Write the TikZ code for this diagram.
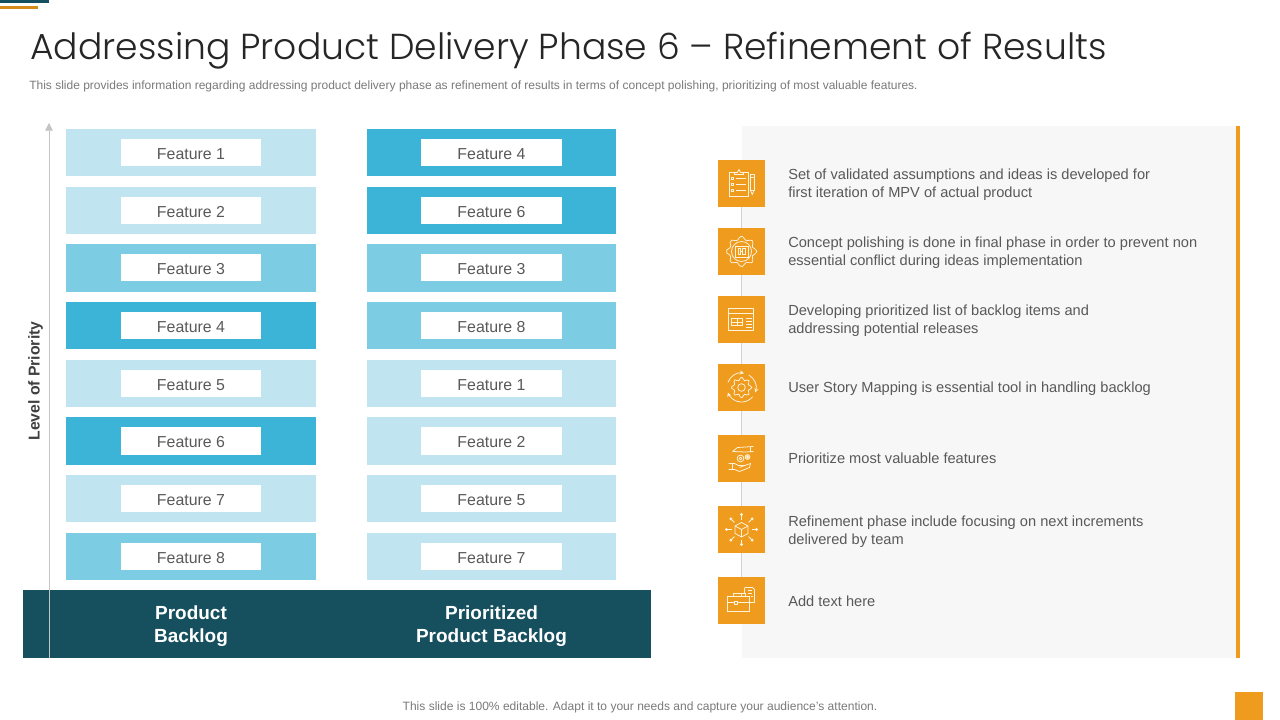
\documentclass[tikz,border=0pt]{standalone}
\usepackage{fontspec}
\setmainfont{Liberation Sans}
\newfontfamily\titlefont[UprightFont=* Light]{Poppins}
\usetikzlibrary{arrows.meta}
\definecolor{barlight}{HTML}{C1E5F0}
\definecolor{barmid}{HTML}{7CCDE4}
\definecolor{bardark}{HTML}{3BB4D8}
\definecolor{teal}{HTML}{16505F}
\definecolor{orange}{HTML}{EE9B1E}
\definecolor{panel}{HTML}{F7F7F7}
\definecolor{txt}{HTML}{595959}
\definecolor{cream}{HTML}{FFF3DC}
\definecolor{axis}{HTML}{C4C4C4}
\newdimen\pxu \pxu=0.025cm
\tikzset{
  x=0.025cm,y=-0.025cm,
  bar/.style={draw=none,inner sep=0,minimum width=250\pxu,minimum height=47.5\pxu},
  chip/.style={fill=white,inner sep=0,minimum width=140\pxu,minimum height=27\pxu,text height=9.5pt,text depth=0pt,text=txt,font=\fontsize{11.3}{13}\selectfont},
  iconbox/.style={fill=orange,inner sep=0,minimum width=47\pxu,minimum height=47\pxu},
  desc/.style={anchor=west,align=left,inner sep=0,text=txt,font=\fontsize{10.4}{13}\selectfont},
  head/.style={align=center,inner sep=0,text=white,font=\fontsize{13.5}{16.4}\selectfont\bfseries},
  ic/.style={draw=cream,line width=0.55pt,fill=none},
  spine/.style={draw=black!18,line width=0.7pt},
}
\begin{document}
\begin{tikzpicture}
\useasboundingbox (0,0) rectangle (1280,720);
\fill[white] (0,0) rectangle (1280,720);
% top strips
\fill[teal] (0,0) rectangle (49,3);
\fill[orange!90!black] (0,6) rectangle (38,9);
% title
\node[anchor=west,inner sep=0,text=black!85] (title) at (30,51) {\titlefont\fontsize{25.7}{30}\selectfont Addressing Product Delivery Phase 6 – Refinement of Results};
\node[anchor=west,inner sep=0,text=black!52] (sub) at (29,86.5) {\fontsize{8.54}{10}\selectfont This slide provides information regarding addressing product delivery phase as refinement of results in terms of concept polishing, prioritizing of most valuable features.};
% bottom band
\node[fill=teal,inner sep=0,minimum width=628\pxu,minimum height=68\pxu] (band) at (337,624) {};
\node[head] (h1) at (191,626) {Product\\Backlog};
\node[head] (h2) at (491.5,626) {Prioritized\\Product Backlog};
% axis
\coordinate (a0) at (49,658);
\coordinate (a1) at (49,123);
\draw[axis,line width=0.6pt,-{Triangle[length=5.5pt,width=5.5pt]}] (a0) -- (a1);
\node[rotate=90,inner sep=0,text=black!75,font=\fontsize{11.2}{13}\selectfont\bfseries] (lvl) at (35.5,381) {Level of Priority};
% left column
\foreach \n/\y/\c/\t in {1/152.5/barlight/1,2/210.5/barlight/2,3/268/barmid/3,4/325.5/bardark/4,5/383.5/barlight/5,6/441/bardark/6,7/498.5/barlight/7,8/556.5/barmid/8}{
  \node[bar,fill=\c] (l\n) at (191,\y) {};
  \node[chip] (lc\n) at (191,\y) {Feature \t};
}
% right column
\foreach \n/\y/\c/\t in {1/152.5/bardark/4,2/210.5/bardark/6,3/268/barmid/3,4/325.5/barmid/8,5/383.5/barlight/1,6/441/barlight/2,7/498.5/barlight/5,8/556.5/barlight/7}{
  \node[bar,fill=\c,minimum width=249\pxu] (r\n) at (491.5,\y) {};
  \node[chip,minimum width=141\pxu] (rc\n) at (491.5,\y) {Feature \t};
}
% panel
\fill[panel] (742,126) rectangle (1236,658);
\fill[orange] (1236,126) rectangle (1240,658);
% icons
\foreach \n/\y in {1/183.5,2/251.5,3/319.5,4/387.5,5/458.5,6/529.5,7/600.5}{
  \node[iconbox] (i\n) at (741.5,\y) {};
}
\draw[spine] (i1) -- (i2);
\draw[spine] (i2) -- (i3);
\draw[spine] (i3) -- (i4);
\draw[spine] (i4) -- (i5);
\draw[spine] (i5) -- (i6);
\draw[spine] (i6) -- (i7);
% icon 1: clipboard and pencil
\begin{scope}[shift={(i1.center)}]
  \draw[ic] (-7,-11) -- (-12.5,-11) -- (-12.5,13) -- (7,13) -- (7,-11) -- (2,-11);
  \draw[ic] (-7,-9) -- (-7,-11) -- (-4,-11) -- (-2.5,-14) -- (-1,-11) -- (2,-11) -- (2,-9) -- cycle;
  \foreach \v in {-5,1,7}{\draw[ic] (-10,\v-1) rectangle (-8,\v+1); \draw[ic] (-6,\v) -- (4,\v);}
  \draw[ic] (9,-9) rectangle (12.5,7);
  \draw[ic] (9,7) -- (10.75,11) -- (12.5,7);
  \draw[ic] (9,-6) -- (12.5,-6);
\end{scope}
% icon 2: gear and device
\begin{scope}[shift={(i2.center)}]
  \draw[ic] plot[smooth cycle,samples=33,domain=0:348.75,variable=\a] ({(13.5+1.8*cos(8*\a))*cos(\a)},{(13.5+1.8*cos(8*\a))*sin(\a)});
  \draw[ic] (0,0) circle (10);
  \draw[ic] (-6.5,-5.5) rectangle (6.5,5.5);
  \draw[ic] (-3.5,-3) rectangle (-1,3) (1,-3) rectangle (3.5,3);
  \draw[ic] (-1,0) -- (1,0);
\end{scope}
% icon 3: browser window
\begin{scope}[shift={(i3.center)}]
  \draw[ic] (-13,-11) rectangle (12,11);
  \draw[ic] (-13,-6) -- (12,-6);
  \draw[ic] (-10,-1) rectangle (1,6);
  \draw[ic] (-10,2.5) -- (1,2.5) (-4.5,-1) -- (-4.5,6);
  \foreach \v in {-1,2,5,8}{\draw[ic] (4,\v) -- (10,\v);}
\end{scope}
% icon 4: gear with circular arrows
\begin{scope}[shift={(i4.center)}]
  \draw[ic] plot[smooth cycle,samples=33,domain=0:348.75,variable=\a] ({(8.8+1.5*cos(8*\a))*cos(\a)},{(8.8+1.5*cos(8*\a))*sin(\a)});
  \draw[ic] (0,0) circle (3.8);
  \draw[ic,-{Stealth[length=3pt,width=3pt]}] (200:14.5) arc[start angle=200,end angle=280,radius=14.5];
  \draw[ic,-{Stealth[length=3pt,width=3pt]}] (300:14.5) arc[start angle=300,end angle=380,radius=14.5];
  \draw[ic,-{Stealth[length=3pt,width=3pt]}] (40:14.5) arc[start angle=40,end angle=160,radius=14.5];
\end{scope}
% icon 5: hands with coins
\begin{scope}[shift={(i5.center)}]
  \draw[ic] (-9,-7) -- (-4,-11) -- (12,-12) (-9,-7) -- (4,-6.5) -- (12,-7);
  \draw[ic] (9,-12) -- (9,-7);
  \draw[ic] (-1,0) circle (3.4) (-1,0) circle (1.4);
  \draw[ic] (6,-1.5) circle (2.4) (6,-1.5) circle (1);
  \draw[ic] (-13,5) -- (-7,5) -- (-3,7) -- (3,7) -- (-2,9);
  \draw[ic] (3,7) -- (9,5) -- (8,9) -- (-2,13) -- (-7,11) -- (-13,11);
  \draw[ic] (-9,5) -- (-9,11);
\end{scope}
% icon 6: cube with radial spokes
\begin{scope}[shift={(i6.center)}]
  \draw[ic] (0,-7) -- (6.5,-3.5) -- (6.5,4) -- (0,7.5) -- (-6.5,4) -- (-6.5,-3.5) -- cycle;
  \draw[ic] (-6.5,-3.5) -- (0,0) -- (6.5,-3.5) (0,0) -- (0,7.5);
  \foreach \a in {0,45,...,315}{
    \draw[ic] (\a:10) -- (\a:13.5);
    \fill[cream] (\a:15) circle (1.6);
  }
\end{scope}
% icon 7: briefcase and documents
\begin{scope}[shift={(i7.center)}]
  \draw[ic] (-14,-4) rectangle (8,11);
  \draw[ic] (-14,2) -- (-7,2) (-4,2) -- (8,2);
  \draw[ic] (-7,0.5) rectangle (-4,3.5);
  \draw[ic] (-8,-4) -- (-8,-7) -- (0,-7) -- (0,-4);
  \draw[ic] (0,-7) -- (4,-7) -- (4,-4);
  \draw[ic] (3,-13) -- (11,-13) -- (13,-11) -- (13,2) -- (8,2);
  \draw[ic] (3,-13) -- (3,-7);
  \draw[ic] (6,-10) -- (10,-10) (6,-7) -- (10,-7) (9,-4) -- (11,-4);
\end{scope}
% descriptions
\node[desc] (d1) at (788,184.5) {Set of validated assumptions and ideas is developed for\\first iteration of MPV of actual product};
\node[desc] (d2) at (788,253) {Concept polishing is done in final phase in order to prevent non\\essential conflict during ideas implementation};
\node[desc] (d3) at (788,321) {Developing prioritized list of backlog items and\\addressing potential releases};
\node[desc] (d4) at (788,389) {User Story Mapping is essential tool in handling backlog};
\node[desc] (d5) at (788,458) {Prioritize most valuable features};
\node[desc] (d6) at (788,532) {Refinement phase include focusing on next increments\\delivered by team};
\node[desc] (d7) at (788,601) {Add text here};
% footer
\node[inner sep=0,text=black!52] (foot) at (640,707) {\fontsize{8.56}{10}\selectfont This slide is 100\% editable. Adapt it to your needs and capture your audience’s attention.};
\fill[orange] (1235,692) rectangle (1263,720);
\end{tikzpicture}
\end{document}
